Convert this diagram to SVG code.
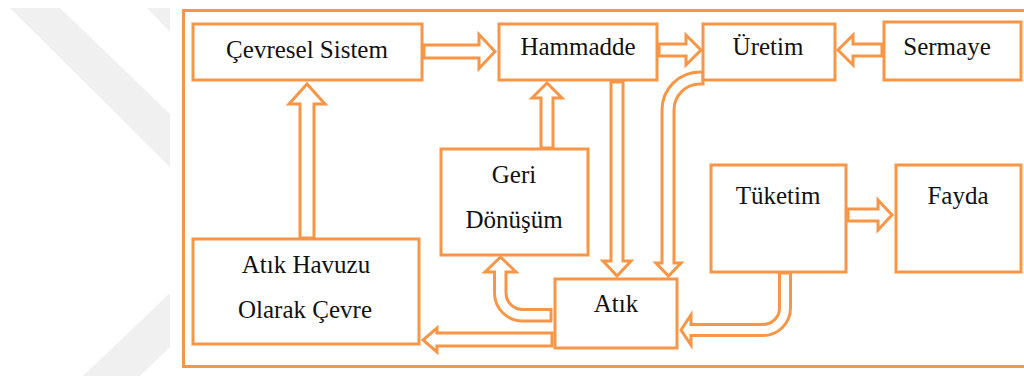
<svg xmlns="http://www.w3.org/2000/svg" width="1024" height="376" viewBox="0 0 1024 376">
<style>
.box{fill:#fff;stroke:#F79646;stroke-width:3}
.arr{fill:#fff;stroke:#F79646;stroke-width:3;stroke-linejoin:miter}
.t{font-family:'Liberation Serif','DejaVu Serif',serif;font-size:25px;fill:#111;text-anchor:middle}
.wm{fill:#F0F0F0}
</style>
<rect width="1024" height="376" fill="#fff"/>
<g id="watermark">
<polygon class="wm" points="10,8 60,8 170,114 170,167"/>
<polygon class="wm" points="147,8 170,8 170,32"/>
<polygon class="wm" points="83,376 170,293 170,347 140,376"/>
</g>
<g id="frame">
<rect class="box" x="183.5" y="10.5" width="850" height="356"/>
</g>
<g id="connectors">
<polygon class="arr" points="424,45 479,45 479,34.5 495,51.5 479,68.5 479,58 424,58"/>
<polygon class="arr" points="659,44 686,44 686,35 701,50 686,65 686,56 659,56"/>
<polygon class="arr" points="882,44 853,44 853,35 838,50 853,65 853,56 882,56"/>
<polygon class="arr" points="541,148 541,98 532,98 547,83 562,98 553,98 553,148"/>
<polygon class="arr" points="611,82 611,261 603,261 617,276 631,261 623,261 623,82"/>
<polygon class="arr" points="300,238 300,104 289,104 307,84 325,104 314,104 314,238"/>
<polygon class="arr" points="552,333 437,333 437,328 423,340 437,352 437,346 552,346"/>
<polygon class="arr" points="848,209 878,209 878,200 892,215 878,230 878,221 848,221"/>
<path class="arr" d="M703,72 H700 A38,38 0 0 0 662,110 V263 H656 L668.5,276 L681,263 H674 V110 A26,26 0 0 1 700,84 H703 Z"/>
<path class="arr" d="M551,309.5 H522.5 A16.5,16.5 0 0 1 506,293 V272 H516 L500.5,257 L485,272 H494.5 V293 A28,28 0 0 0 522.5,321 H551 Z"/>
<path class="arr" d="M779.5,273 V308 A16.5,16.5 0 0 1 763,324.5 H691 V315 L681,330 L691,345 V335.5 H763 A27.5,27.5 0 0 0 790.5,308 V273 Z"/>
</g>
<g id="cevresel">
<rect class="box" x="193" y="24" width="229" height="56"/>
<text class="t" x="307" y="58">Çevresel Sistem</text>
</g>
<g id="hammadde">
<rect class="box" x="499" y="24" width="158" height="56"/>
<text class="t" x="578" y="55">Hammadde</text>
</g>
<g id="uretim">
<rect class="box" x="703" y="24" width="132" height="56"/>
<text class="t" x="768" y="55">Üretim</text>
</g>
<g id="sermaye">
<rect class="box" x="884" y="22" width="137" height="58"/>
<text class="t" x="947" y="55">Sermaye</text>
</g>
<g id="geri">
<rect class="box" x="441" y="149" width="147" height="106"/>
<text class="t" x="514" y="183">Geri</text>
<text class="t" x="514" y="228">Dönüşüm</text>
</g>
<g id="atik">
<rect class="box" x="555" y="279" width="122" height="69"/>
<text class="t" x="616" y="312">Atık</text>
</g>
<g id="havuzu">
<rect class="box" x="193" y="239" width="226" height="105"/>
<text class="t" x="306" y="273">Atık Havuzu</text>
<text class="t" x="305" y="318">Olarak Çevre</text>
</g>
<g id="tuketim">
<rect class="box" x="711" y="165" width="135" height="107"/>
<text class="t" x="778" y="204">Tüketim</text>
</g>
<g id="fayda">
<rect class="box" x="896" y="165" width="125" height="107"/>
<text class="t" x="958" y="204">Fayda</text>
</g>
</svg>
